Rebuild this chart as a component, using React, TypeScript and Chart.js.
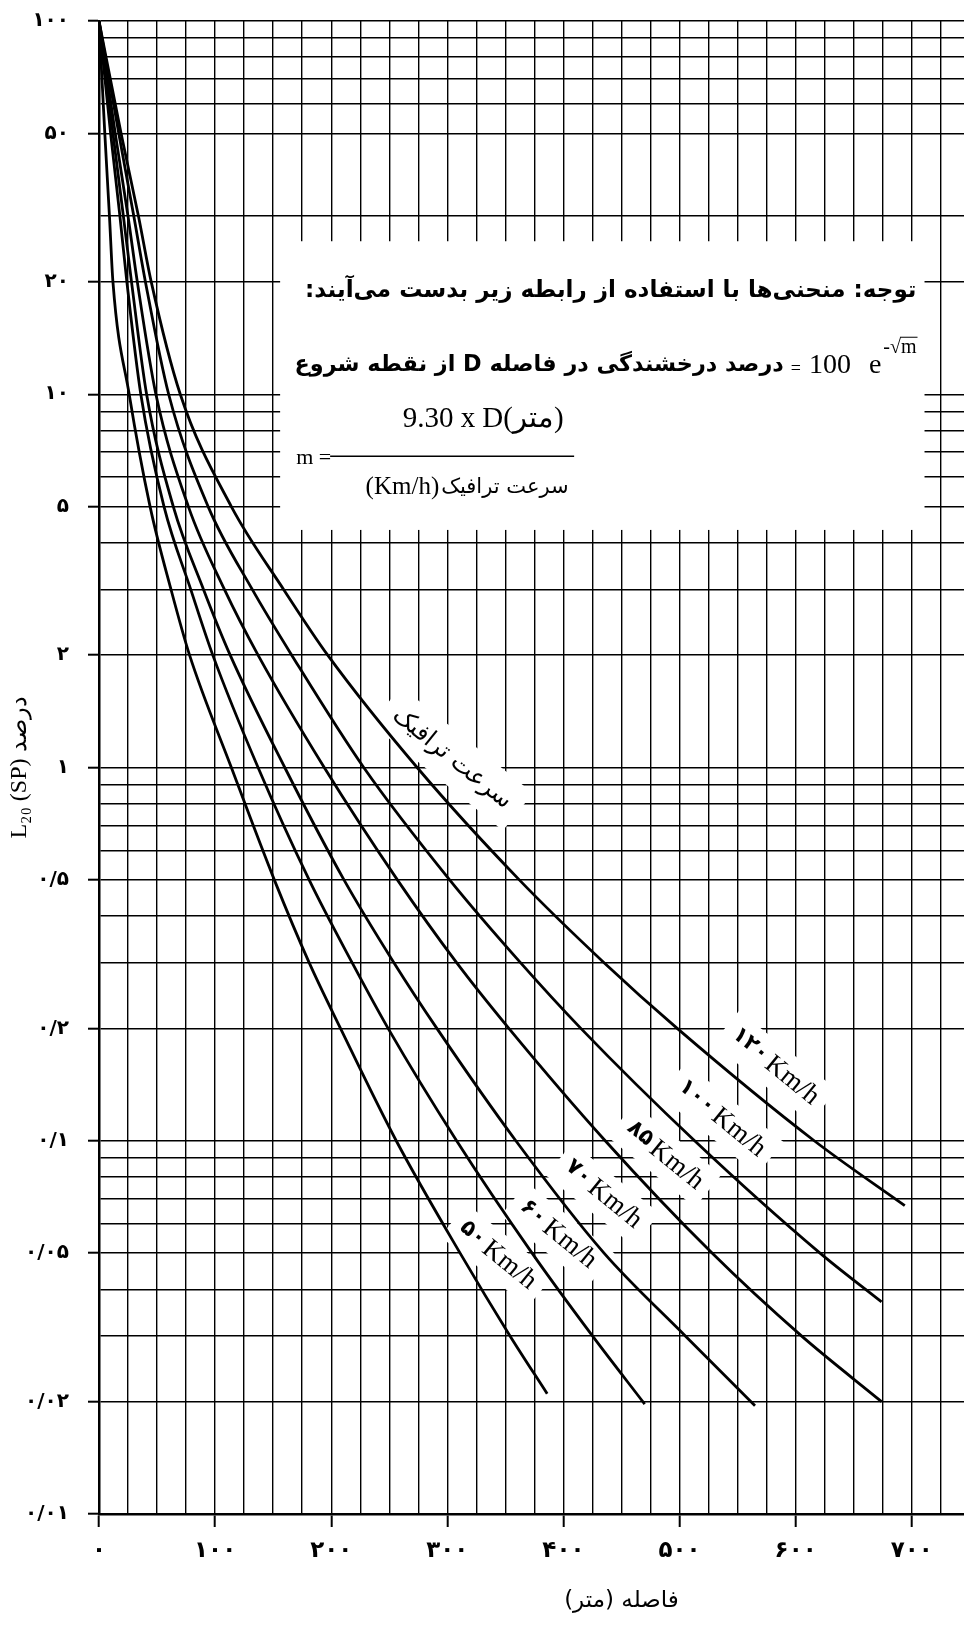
import React, { useEffect, useRef } from 'react';
import { Chart, registerables } from 'chart.js';

Chart.register(...registerables);

// ---- Data: distance (m) and percent for each traffic speed ----
const speedLabels = ['۵۰', '۶۰', '۷۰', '۸۵', '۱۰۰', '۱۲۰'];

const dist50 = [0, 5, 9, 12, 26, 44, 62, 78, 114, 151, 181, 208, 256, 311, 354, 386];
const pct50 = [100, 50, 30, 20, 10, 5, 3, 2, 1, 0.5, 0.3, 0.2, 0.1, 0.05, 0.03, 0.021];

const dist60 = [0, 10, 18, 24, 36, 56, 79, 98, 137, 181, 218, 249, 308, 373, 425, 470];
const pct60 = [100, 50, 30, 20, 10, 5, 3, 2, 1, 0.5, 0.3, 0.2, 0.1, 0.05, 0.03, 0.0197];

const dist70 = [0, 12, 21, 28, 41, 64, 90, 113, 160, 211, 254, 291, 359, 435, 505, 565];
const pct70 = [100, 50, 30, 20, 10, 5, 3, 2, 1, 0.5, 0.3, 0.2, 0.1, 0.05, 0.03, 0.0195];

const dist85 = [0, 14, 25, 33, 49, 77, 108, 137, 194, 257, 308, 353, 436, 528, 605, 674];
const pct85 = [100, 50, 30, 20, 10, 5, 3, 2, 1, 0.5, 0.3, 0.2, 0.1, 0.05, 0.03, 0.02];

const dist100 = [0, 17, 30, 40, 60, 94, 132, 166, 228, 302, 363, 415, 513, 621, 674];
const pct100 = [100, 50, 30, 20, 10, 5, 3, 2, 1, 0.5, 0.3, 0.2, 0.1, 0.05, 0.037];

const dist120 = [0, 19, 34, 45, 70, 114, 159, 197, 274, 362, 435, 498, 616, 694];
const pct120 = [100, 50, 30, 20, 10, 5, 3, 2, 1, 0.5, 0.3, 0.2, 0.1, 0.067];

const seriesDist = [dist50, dist60, dist70, dist85, dist100, dist120];
const seriesPct = [pct50, pct60, pct70, pct85, pct100, pct120];

// curve label anchor points (distance, percent)
const labelDist = [343, 395, 434, 487, 536, 582];
const labelPct = [0.0493, 0.0561, 0.0718, 0.0912, 0.1146, 0.158];

// ---- Axis ticks ----
const xTickValues = [0, 100, 200, 300, 400, 500, 600, 700];
const xTickLabels = ['۰', '۱۰۰', '۲۰۰', '۳۰۰', '۴۰۰', '۵۰۰', '۶۰۰', '۷۰۰'];
const xGridStep = 25;
const xMax = 745;

const yTickValues = [100, 50, 20, 10, 5, 2, 1, 0.5, 0.2, 0.1, 0.05, 0.02, 0.01];
const yTickLabels = ['۱۰۰', '۵۰', '۲۰', '۱۰', '۵', '۲', '۱', '۰/۵', '۰/۲', '۰/۱', '۰/۰۵', '۰/۰۲', '۰/۰۱'];
const yGridMantissas = [1, 2, 3, 4, 5, 6, 7, 8, 9];
const yDecades = [0.01, 0.1, 1, 10];

// ---- Texts ----
const noteLine1 = 'توجه: منحنی\u200cها با استفاده از رابطه زیر بدست می\u200cآیند:';
const noteLine2 = 'درصد درخشندگی در فاصله D از نقطه شروع';
const numeratorText = '9.30 x D(متر)';
const denomPersian = 'سرعت ترافیک';
const denomLatin = '(Km/h)';
const speedCaption = 'سرعت ترافیک';
const xTitle = 'فاصله (متر)';
const yTitle = 'L₂₀ (SP) درصد';

// note box extent in data units (distance, percent)
const noteBox = { d0: 156, d1: 711, p0: 25.7, p1: 4.33 };
const captionAnchor = { d: 304, p: 1.057 };

const FA = '"DejaVu Sans"';
const SERIF = '"Liberation Serif"';
const ANGLE = 0.68;

function near(a: number, b: number) {
  return Math.abs(a / b - 1) < 1e-6;
}

function fitFont(
  ctx: CanvasRenderingContext2D,
  text: string,
  weight: string,
  family: string,
  target: number,
  base: number
) {
  ctx.font = `${weight} ${base}px ${family}`;
  const w = ctx.measureText(text).width;
  const size = Math.max(10, Math.min(base * 1.4, (base * target) / w));
  ctx.font = `${weight} ${size}px ${family}`;
  return size;
}

function labelGeom(ctx: CanvasRenderingContext2D, digits: string) {
  ctx.font = `bold 22px ${FA}`;
  const wd = ctx.measureText(digits).width;
  ctx.font = `27px ${SERIF}`;
  const wk = ctx.measureText('Km/h').width;
  return { wd, wk, total: wd + 4 + wk };
}

const annotationPlugin = {
  id: 'annotations',
  beforeDatasetsDraw(chart: any) {
    const { ctx, scales } = chart;
    const x = scales.x;
    const y = scales.y;
    ctx.save();
    ctx.fillStyle = '#fff';
    const bx0 = x.getPixelForValue(noteBox.d0);
    const bx1 = x.getPixelForValue(noteBox.d1);
    const by0 = y.getPixelForValue(noteBox.p0);
    const by1 = y.getPixelForValue(noteBox.p1);
    ctx.fillRect(bx0, by0, bx1 - bx0, by1 - by0);

    speedLabels.forEach((s, i) => {
      const g = labelGeom(ctx, s);
      const px = x.getPixelForValue(labelDist[i]);
      const py = y.getPixelForValue(labelPct[i]);
      ctx.save();
      ctx.translate(px, py);
      ctx.rotate(ANGLE);
      ctx.fillStyle = '#fff';
      ctx.fillRect(-g.total / 2 - 10, -21, g.total + 20, 42);
      ctx.restore();
    });
    {
      const px = x.getPixelForValue(captionAnchor.d);
      const py = y.getPixelForValue(captionAnchor.p);
      ctx.save();
      ctx.translate(px, py);
      ctx.rotate(ANGLE);
      ctx.font = `24px ${FA}`;
      const w = ctx.measureText(speedCaption).width;
      ctx.fillStyle = '#fff';
      ctx.fillRect(-w / 2 - 12, -24, w + 24, 48);
      ctx.restore();
    }
    ctx.restore();
  },
  afterDatasetsDraw(chart: any) {
    const { ctx, scales } = chart;
    const x = scales.x;
    const y = scales.y;
    const bx0 = x.getPixelForValue(noteBox.d0);
    const bx1 = x.getPixelForValue(noteBox.d1);
    const by0 = y.getPixelForValue(noteBox.p0);
    ctx.save();
    ctx.fillStyle = '#000';
    ctx.strokeStyle = '#000';
    ctx.textBaseline = 'middle';

    // line 1
    ctx.direction = 'rtl';
    ctx.textAlign = 'right';
    fitFont(ctx, noteLine1, 'bold', FA, 612, 22);
    ctx.fillText(noteLine1, bx1 - 8, by0 + 50);

    // line 2
    ctx.direction = 'ltr';
    const l2y = by0 + 124;
    let right = bx1 - 8;
    ctx.font = `20px ${SERIF}`;
    const supW = ctx.measureText('-√m').width;
    ctx.textAlign = 'left';
    ctx.fillText('-√m', right - supW, l2y - 17);
    const mW = ctx.measureText('m').width;
    ctx.lineWidth = 1;
    ctx.beginPath();
    ctx.moveTo(right - mW - 1, l2y - 28);
    ctx.lineTo(right + 1, l2y - 28);
    ctx.stroke();
    right -= supW + 2;
    ctx.font = `28px ${SERIF}`;
    const eW = ctx.measureText('e').width;
    ctx.fillText('e', right - eW, l2y);
    right -= eW + 18;
    const hW = ctx.measureText('100').width;
    ctx.fillText('100', right - hW, l2y);
    right -= hW + 8;
    ctx.font = `18px ${SERIF}`;
    const eqW = ctx.measureText('=').width;
    ctx.fillText('=', right - eqW, l2y + 4);
    right -= eqW + 7;
    ctx.direction = 'rtl';
    ctx.textAlign = 'right';
    fitFont(ctx, noteLine2, 'bold', FA, right - (bx0 + 14), 22);
    ctx.fillText(noteLine2, right, l2y);

    // fraction
    ctx.direction = 'ltr';
    ctx.textAlign = 'center';
    fitFont(ctx, numeratorText, '', SERIF, 160, 26);
    ctx.fillText(numeratorText, bx0 + 203, by0 + 178);
    ctx.textAlign = 'left';
    ctx.font = `22px ${SERIF}`;
    ctx.fillText('m =', bx0 + 16, by0 + 217);
    ctx.lineWidth = 1.3;
    ctx.beginPath();
    ctx.moveTo(bx0 + 50, by0 + 215);
    ctx.lineTo(bx0 + 294, by0 + 215);
    ctx.stroke();
    ctx.font = `21px ${FA}`;
    const dpW = ctx.measureText(denomPersian).width;
    ctx.font = `25px ${SERIF}`;
    const dlW = ctx.measureText(denomLatin).width;
    const dTotal = dpW + dlW + 2;
    const dLeft = bx0 + 187 - dTotal / 2;
    ctx.fillText(denomLatin, dLeft, by0 + 246);
    ctx.font = `21px ${FA}`;
    ctx.direction = 'rtl';
    ctx.textAlign = 'right';
    ctx.fillText(denomPersian, dLeft + dTotal, by0 + 246);

    // curve labels
    speedLabels.forEach((s, i) => {
      const g = labelGeom(ctx, s);
      const px = x.getPixelForValue(labelDist[i]);
      const py = y.getPixelForValue(labelPct[i]);
      ctx.save();
      ctx.translate(px, py);
      ctx.rotate(ANGLE);
      ctx.direction = 'ltr';
      ctx.textAlign = 'left';
      ctx.textBaseline = 'middle';
      ctx.font = `bold 22px ${FA}`;
      ctx.fillText(s, -g.total / 2, -2);
      ctx.font = `27px ${SERIF}`;
      ctx.fillText('Km/h', -g.total / 2 + g.wd + 4, 0);
      ctx.restore();
    });

    // caption along 120 curve
    {
      const px = x.getPixelForValue(captionAnchor.d);
      const py = y.getPixelForValue(captionAnchor.p);
      ctx.save();
      ctx.translate(px, py);
      ctx.rotate(ANGLE);
      ctx.direction = 'rtl';
      ctx.textAlign = 'center';
      ctx.textBaseline = 'middle';
      ctx.font = `24px ${FA}`;
      ctx.fillText(speedCaption, 0, 0);
      ctx.restore();
    }

    // x axis title (right-to-left)
    {
      const cx = x.getPixelForValue(450);
      const cy = chart.height - 48;
      ctx.direction = 'rtl';
      ctx.textAlign = 'center';
      ctx.textBaseline = 'middle';
      ctx.font = `23px ${FA}`;
      ctx.fillText(xTitle, cx, cy);
    }
    ctx.restore();
  },
};

export default function App() {
  const canvasRef = useRef<HTMLCanvasElement | null>(null);

  useEffect(() => {
    document.body.style.margin = '0';
    document.body.style.background = '#fff';
    const canvas = canvasRef.current;
    if (!canvas) return;

    const datasets = seriesDist.map((dist, i) => ({
      label: speedLabels[i],
      data: dist.map((d, j) => ({ x: d, y: seriesPct[i][j] })),
      borderColor: '#000',
      borderWidth: 2.8,
      pointRadius: 0,
      fill: false,
      cubicInterpolationMode: 'monotone' as const,
    }));

    const yGrid: number[] = [];
    yDecades.forEach((dec) =>
      yGridMantissas.forEach((m) => {
        const v = m * dec;
        if (!near(v, 40)) yGrid.push(v);
      })
    );
    yGrid.push(100);

    const xGrid: number[] = [];
    for (let v = 0; v <= xMax - 20; v += xGridStep) xGrid.push(v);

    const chart = new Chart(canvas, {
      type: 'line',
      data: { datasets },
      plugins: [annotationPlugin],
      options: {
        animation: false,
        responsive: false,
        devicePixelRatio: 1,
        layout: { padding: { top: 21, left: 0, right: 0, bottom: 0 } },
        plugins: { legend: { display: false }, tooltip: { enabled: false } },
        scales: {
          x: {
            type: 'linear',
            min: 0,
            max: xMax,
            afterBuildTicks: (s: any) => {
              s.ticks = xGrid.map((v) => ({ value: v }));
            },
            afterFit: (s: any) => {
              s.height = 135;
            },
            ticks: {
              autoSkip: false,
              maxRotation: 0,
              minRotation: 0,
              padding: 10,
              color: '#000',
              font: { family: 'DejaVu Sans', size: 23, weight: 'bold' },
              callback: (v: any) => {
                const idx = xTickValues.indexOf(Number(v));
                return idx >= 0 ? xTickLabels[idx] : '';
              },
            },
            grid: {
              color: '#000',
              lineWidth: 1.4,
              tickLength: 13,
              tickWidth: 2,
              tickColor: (c: any) =>
                c.tick && xTickValues.indexOf(c.tick.value) >= 0 ? '#000' : 'rgba(0,0,0,0)',
            },
            border: { color: '#000', width: 2.5 },
          },
          y: {
            type: 'logarithmic',
            min: 0.01,
            max: 100,
            afterBuildTicks: (s: any) => {
              s.ticks = yGrid.map((v) => ({ value: v }));
            },
            afterFit: (s: any) => {
              s.width = 99;
              s.paddingTop = 0;
              s.paddingBottom = 0;
            },
            ticks: {
              autoSkip: false,
              padding: 19,
              color: '#000',
              font: { family: 'DejaVu Sans', size: 20, weight: 'bold' },
              callback: (v: any) => {
                const idx = yTickValues.findIndex((t) => near(t, Number(v)));
                return idx >= 0 ? yTickLabels[idx] : '';
              },
            },
            grid: {
              color: '#000',
              lineWidth: 1.4,
              tickLength: 11,
              tickWidth: 2,
              tickColor: (c: any) =>
                c.tick && yTickValues.findIndex((t) => near(t, c.tick.value)) >= 0
                  ? '#000'
                  : 'rgba(0,0,0,0)',
            },
            border: { color: '#000', width: 2.5 },
            title: {
              display: true,
              text: yTitle,
              color: '#000',
              font: { family: 'Liberation Serif', size: 24 },
              padding: { top: 5, bottom: 0 },
            },
          },
        },
      },
    });
    return () => chart.destroy();
  }, []);

  return (
    <div style={{ width: 964, height: 1649, background: '#fff' }}>
      <canvas ref={canvasRef} width={964} height={1649} style={{ display: 'block' }} />
    </div>
  );
}
